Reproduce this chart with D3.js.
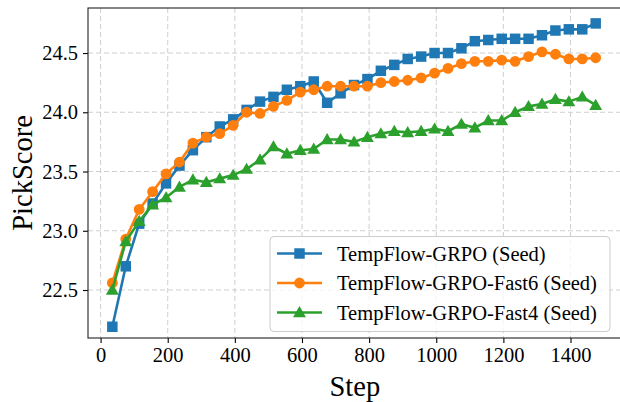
<!DOCTYPE html>
<html>
<head>
<meta charset="utf-8">
<script src="https://cdn.jsdelivr.net/npm/d3@7"></script>
<style>
  html, body { margin: 0; padding: 0; background: #fff; overflow: hidden; }
  svg { display: block; }
  svg text { font-family: "Liberation Serif", "Times New Roman", serif !important; }
</style>
</head>
<body>
<svg id="chart" width="620" height="402"></svg>
<script>
// ---- data ----
const steps = [35, 75, 115, 155, 195, 235, 275, 315, 355, 395, 435, 475, 515, 555, 595, 635, 675, 715, 755,
               795, 835, 875, 915, 955, 995, 1035, 1075, 1115, 1155, 1195, 1235, 1275, 1315, 1355, 1395, 1435, 1475];

const grpo = [22.19, 22.70, 23.06, 23.23, 23.40, 23.55, 23.68, 23.79, 23.88, 23.94, 24.02, 24.09, 24.13,
              24.19, 24.22, 24.26, 24.08, 24.16, 24.23, 24.28, 24.35, 24.40, 24.45, 24.47, 24.50, 24.50,
              24.54, 24.60, 24.61, 24.62, 24.62, 24.62, 24.65, 24.69, 24.70, 24.70, 24.75];

const fast6 = [22.56, 22.93, 23.18, 23.33, 23.48, 23.58, 23.74, 23.79, 23.82, 23.89, 24.00, 23.99, 24.05,
               24.10, 24.17, 24.19, 24.22, 24.22, 24.22, 24.22, 24.25, 24.26, 24.27, 24.29, 24.33, 24.37,
               24.41, 24.43, 24.43, 24.44, 24.43, 24.47, 24.51, 24.49, 24.45, 24.45, 24.46];

const fast4 = [22.50, 22.91, 23.08, 23.22, 23.28, 23.37, 23.43, 23.41, 23.44, 23.47, 23.52, 23.60, 23.71,
               23.65, 23.68, 23.69, 23.77, 23.77, 23.75, 23.79, 23.82, 23.84, 23.83, 23.84, 23.86, 23.84,
               23.90, 23.87, 23.93, 23.93, 24.00, 24.05, 24.07, 24.11, 24.09, 24.13, 24.06];

const seriesNames = ["TempFlow-GRPO (Seed)", "TempFlow-GRPO-Fast6 (Seed)", "TempFlow-GRPO-Fast4 (Seed)"];
const seriesColors = ["#1f77b4", "#ff7f0e", "#2ca02c"];
const seriesMarkers = ["square", "circle", "triangle"];

const xTicks = [0, 200, 400, 600, 800, 1000, 1200, 1400];
const yTicks = [22.5, 23.0, 23.5, 24.0, 24.5];
const xLabel = "Step";
const yLabel = "PickScore";

// ---- layout ----
const plot = { left: 88, top: 8, right: 621.7, bottom: 338 };
const FONT = "'Liberation Serif', 'Times New Roman', serif";

const svg = d3.select("#chart");

const x = d3.scaleLinear().domain([-37.5, 1552.5]).range([plot.left, plot.right]);
const y = d3.scaleLinear().domain([22.095, 24.88]).range([plot.bottom, plot.top]);

// clip
svg.append("defs").append("clipPath").attr("id", "clip")
  .append("rect").attr("x", plot.left).attr("y", plot.top)
  .attr("width", plot.right - plot.left).attr("height", plot.bottom - plot.top);

// grid
const grid = svg.append("g").attr("clip-path", "url(#clip)");
grid.selectAll("line.gx").data(xTicks).join("line")
  .attr("x1", d => x(d)).attr("x2", d => x(d))
  .attr("y1", plot.top).attr("y2", plot.bottom)
  .attr("stroke", "#cfcfcf").attr("stroke-width", 1).attr("stroke-dasharray", "5,3");
grid.selectAll("line.gy").data(yTicks).join("line")
  .attr("x1", plot.left).attr("x2", plot.right)
  .attr("y1", d => y(d)).attr("y2", d => y(d))
  .attr("stroke", "#cfcfcf").attr("stroke-width", 1).attr("stroke-dasharray", "5,3");

// marker symbols
function symbolFor(kind) {
  if (kind === "square") return d3.symbol().type(d3.symbolSquare).size(110)();
  if (kind === "circle") return d3.symbol().type(d3.symbolCircle).size(92)();
  return d3.symbol().type(d3.symbolTriangle).size(72)();
}

const allSeries = [grpo, fast6, fast4];
const dataG = svg.append("g").attr("clip-path", "url(#clip)");
const line = d3.line().x(d => x(d[0])).y(d => y(d[1]));

allSeries.forEach((vals, si) => {
  const pts = steps.map((s, i) => [s, vals[i]]);
  const g = dataG.append("g");
  g.append("path").datum(pts).attr("d", line)
    .attr("fill", "none").attr("stroke", seriesColors[si]).attr("stroke-width", 2.6)
    .attr("stroke-linejoin", "round");
  g.selectAll("path.m").data(pts).join("path")
    .attr("d", symbolFor(seriesMarkers[si]))
    .attr("transform", d => `translate(${x(d[0])},${y(d[1]) + (seriesMarkers[si] === "triangle" ? 1 : 0)})`)
    .attr("fill", seriesColors[si]);
});

// axes
const xAxis = d3.axisBottom(x).tickValues(xTicks).tickSize(5).tickPadding(4).tickFormat(d3.format("d"));
const yAxis = d3.axisLeft(y).tickValues(yTicks).tickSize(5).tickPadding(5).tickFormat(d3.format(".1f"));

const gx = svg.append("g").attr("transform", `translate(0,${plot.bottom})`).call(xAxis);
const gy = svg.append("g").attr("transform", `translate(${plot.left},0)`).call(yAxis);
[gx, gy].forEach(g => {
  g.attr("font-family", FONT).attr("font-size", 20.5);
  g.select(".domain").remove();
  g.selectAll(".tick line").attr("stroke", "#000").attr("stroke-width", 1.1);
  g.selectAll(".tick text").attr("fill", "#000")
    .style("font-family", FONT).style("font-size", "20.5px");
});
gx.selectAll(".tick text").attr("dy", "0.72em");

// spines (left, bottom, top; right is off-canvas)
svg.append("rect").attr("x", plot.left).attr("y", plot.top)
  .attr("width", plot.right - plot.left).attr("height", plot.bottom - plot.top)
  .attr("fill", "none").attr("stroke", "#222").attr("stroke-width", 1.1);

// axis labels
svg.append("text").attr("x", (plot.left + plot.right) / 2).attr("y", 396)
  .attr("text-anchor", "middle").style("font-family", FONT).style("font-size", "28.5px")
  .attr("fill", "#000").text(xLabel);
svg.append("text").attr("transform", `translate(32,${(plot.top + plot.bottom) / 2}) rotate(-90)`)
  .attr("text-anchor", "middle").style("font-family", FONT).style("font-size", "28.5px")
  .attr("fill", "#000").text(yLabel);

// legend
const leg = svg.append("g");
leg.append("rect").attr("x", 270).attr("y", 236.5).attr("width", 340).attr("height", 95)
  .attr("rx", 4).attr("fill", "#fff").attr("fill-opacity", 0.8)
  .attr("stroke", "#cccccc").attr("stroke-width", 1);
seriesNames.forEach((name, i) => {
  const cy = 253.5 + i * 29.5;
  leg.append("line").attr("x1", 277).attr("x2", 322).attr("y1", cy).attr("y2", cy)
    .attr("stroke", seriesColors[i]).attr("stroke-width", 2.6);
  leg.append("path").attr("d", symbolFor(seriesMarkers[i]))
    .attr("transform", `translate(299.5,${cy + (seriesMarkers[i] === "triangle" ? 1 : 0)})`)
    .attr("fill", seriesColors[i]);
  leg.append("text").attr("x", 337).attr("y", cy).attr("dy", "0.35em")
    .style("font-family", FONT).style("font-size", "20.5px")
    .attr("fill", "#000").text(name);
});
</script>
</body>
</html>
